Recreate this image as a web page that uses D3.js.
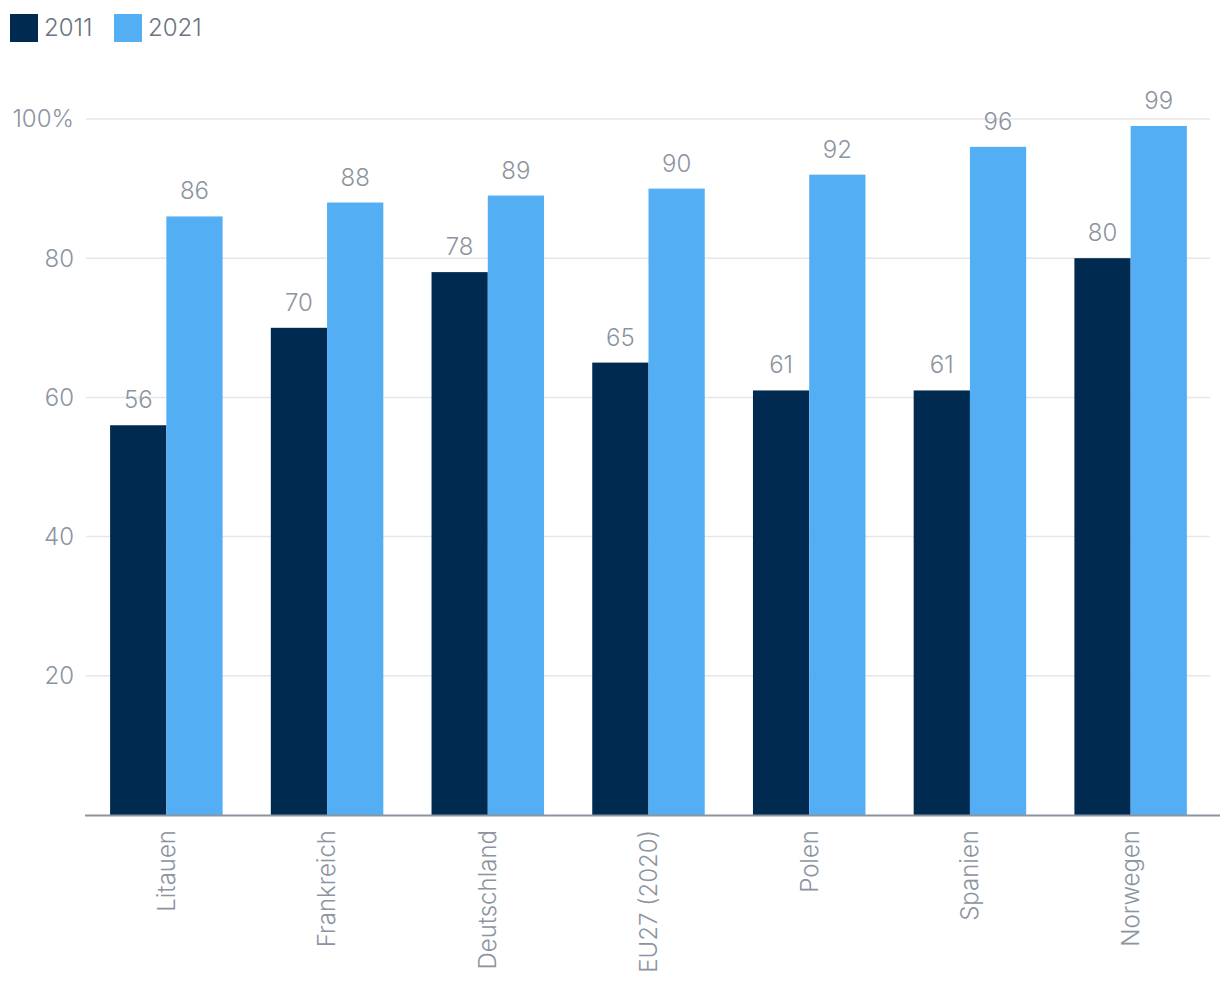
<!DOCTYPE html>
<html><head><meta charset="utf-8">
<script src="https://cdn.jsdelivr.net/npm/d3@7/dist/d3.min.js"></script>
<style>
body{margin:0;background:#fff;}
svg text{font-family:Inter,"Noto Sans",sans-serif;font-weight:300;fill:#8c94a0;}
</style></head><body>
<svg id="c" width="1220" height="992"></svg>
<script>
const categories = ["Litauen","Frankreich","Deutschland","EU27 (2020)","Polen","Spanien","Norwegen"];
const seriesNames = ["2011","2021"];
const values2011 = [56,70,78,65,61,61,80];
const values2021 = [86,88,89,90,92,96,99];
const yTicks = [20,40,60,80,100];
const colors = ["#002a50","#53aef4"];

(function(){
const svg = d3.select("#c");
const mLeft = 86, mRight = 1211, mTop = 119, mBottom = 815;
const x = d3.scaleBand().domain(categories).range([mLeft,mRight]).paddingInner(0.3).paddingOuter(0.15);
const x1 = d3.scaleBand().domain(seriesNames).range([0,x.bandwidth()]);
const y = d3.scaleLinear().domain([0,100]).range([mBottom,mTop]);

svg.append("g").selectAll("line").data(yTicks).join("line")
  .attr("x1",mLeft).attr("x2",1210).attr("y1",d=>y(d)).attr("y2",d=>y(d))
  .attr("stroke","#e6e6e6").attr("stroke-width",1.5);
svg.append("g").selectAll("text").data(yTicks).join("text")
  .attr("x",74).attr("y",d=>y(d)).attr("text-anchor","end").attr("dy","0.35em")
  .attr("font-size",24).text(d=>d===100?"100%":d);

const data = categories.map((c,i)=>({c, vals:[values2011[i],values2021[i]]}));
const g = svg.append("g").selectAll("g").data(data).join("g")
  .attr("transform",d=>`translate(${x(d.c)},0)`);
g.selectAll("rect").data(d=>d.vals.map((v,j)=>({v,s:seriesNames[j],j}))).join("rect")
  .attr("x",d=>x1(d.s)).attr("width",x1.bandwidth()).attr("y",d=>y(d.v)).attr("height",d=>mBottom-y(d.v))
  .attr("fill",d=>colors[d.j]);
g.selectAll("text").data(d=>d.vals.map((v,j)=>({v,s:seriesNames[j],j}))).join("text")
  .attr("x",d=>x1(d.s)+x1.bandwidth()/2).attr("y",d=>y(d.v)-17).attr("text-anchor","middle")
  .attr("font-size",24).text(d=>d.v);

svg.append("line").attr("x1",85).attr("x2",1220).attr("y1",mBottom+0.5).attr("y2",mBottom+0.5)
  .attr("stroke","#8c94a0").attr("stroke-width",2);

svg.append("g").selectAll("text").data(categories).join("text")
  .attr("transform",d=>`translate(${x(d)+x.bandwidth()/2},830) rotate(-90)`)
  .attr("text-anchor","end").attr("dy","0.35em").attr("font-size",24).text(d=>d);

const leg = svg.append("g");
const legX = [10,114];
seriesNames.forEach((s,i)=>{
  leg.append("rect").attr("x",legX[i]).attr("y",14).attr("width",28).attr("height",28).attr("fill",colors[i]);
  leg.append("text").attr("x",legX[i]+34).attr("y",28).attr("dy","0.35em").attr("font-size",24)
    .style("fill","#6b7280").text(s);
});
})();
</script></body></html>
